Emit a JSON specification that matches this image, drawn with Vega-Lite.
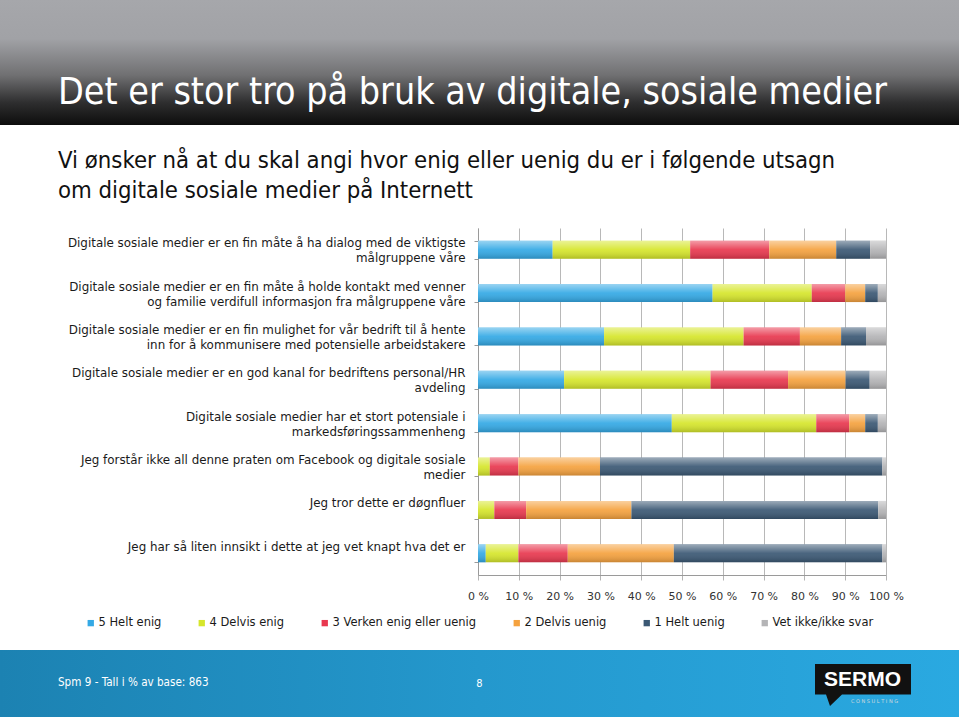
{
  "$schema": "https://vega.github.io/schema/vega-lite/v6.json",
  "padding": 0,
  "background": "#ffffff",
  "spacing": 0,
  "bounds": "flush",
  "config": {"view": {"stroke": null}},
  "vconcat": [
    {
      "width": 959,
      "height": 228,
      "data": {"values": [{"k": 0}]},
      "mark": {
        "type": "rect",
        "color": {
          "gradient": "linear", "x1": 0, "y1": 0, "x2": 0, "y2": 1,
          "stops": [
            {"offset": 0, "color": "#a6a7ab"},
            {"offset": 0.17, "color": "#a1a2a6"},
            {"offset": 0.33, "color": "#707072"},
            {"offset": 0.45, "color": "#2e2e2f"},
            {"offset": 0.547, "color": "#0d0d0d"},
            {"offset": 0.5483, "color": "#ffffff"},
            {"offset": 1, "color": "#ffffff"}
          ]
        }
      },
      "encoding": {},
      "title": {
        "text": "Det er stor tro på bruk av digitale, sosiale medier",
        "subtitle": ["Vi ønsker nå at du skal angi hvor enig eller uenig du er i følgende utsagn", "om digitale sosiale medier på Internett"],
        "orient": "top",
        "anchor": "start",
        "frame": "group",
        "dx": 58,
        "offset": -233,
        "baseline": "alphabetic",
        "font": "DejaVu Sans Condensed",
        "fontSize": 37.3,
        "fontWeight": "normal",
        "color": "#ffffff",
        "subtitleFont": "DejaVu Sans Condensed",
        "subtitleFontSize": 23.7,
        "subtitleColor": "#111111",
        "subtitleLineHeight": 30,
        "subtitlePadding": 27
      }
    },
    {
      "width": 959,
      "height": 347,
      "data": {
        "values": [
          {"statement": "Digitale sosiale medier er en fin måte å ha dialog med de viktigste|målgruppene våre", "response": "5 Helt enig", "rank": 1, "value": 18.3},
          {"statement": "Digitale sosiale medier er en fin måte å ha dialog med de viktigste|målgruppene våre", "response": "4 Delvis enig", "rank": 2, "value": 33.7},
          {"statement": "Digitale sosiale medier er en fin måte å ha dialog med de viktigste|målgruppene våre", "response": "3 Verken enig eller uenig", "rank": 3, "value": 19.4},
          {"statement": "Digitale sosiale medier er en fin måte å ha dialog med de viktigste|målgruppene våre", "response": "2 Delvis uenig", "rank": 4, "value": 16.4},
          {"statement": "Digitale sosiale medier er en fin måte å ha dialog med de viktigste|målgruppene våre", "response": "1 Helt uenig", "rank": 5, "value": 8.3},
          {"statement": "Digitale sosiale medier er en fin måte å ha dialog med de viktigste|målgruppene våre", "response": "Vet ikke/ikke svar", "rank": 6, "value": 3.9},
          {"statement": "Digitale sosiale medier er en fin måte å holde kontakt med venner|og familie verdifull informasjon fra målgruppene våre", "response": "5 Helt enig", "rank": 1, "value": 57.5},
          {"statement": "Digitale sosiale medier er en fin måte å holde kontakt med venner|og familie verdifull informasjon fra målgruppene våre", "response": "4 Delvis enig", "rank": 2, "value": 24.3},
          {"statement": "Digitale sosiale medier er en fin måte å holde kontakt med venner|og familie verdifull informasjon fra målgruppene våre", "response": "3 Verken enig eller uenig", "rank": 3, "value": 8.2},
          {"statement": "Digitale sosiale medier er en fin måte å holde kontakt med venner|og familie verdifull informasjon fra målgruppene våre", "response": "2 Delvis uenig", "rank": 4, "value": 4.9},
          {"statement": "Digitale sosiale medier er en fin måte å holde kontakt med venner|og familie verdifull informasjon fra målgruppene våre", "response": "1 Helt uenig", "rank": 5, "value": 3.1},
          {"statement": "Digitale sosiale medier er en fin måte å holde kontakt med venner|og familie verdifull informasjon fra målgruppene våre", "response": "Vet ikke/ikke svar", "rank": 6, "value": 2.0},
          {"statement": "Digitale sosiale medier er en fin mulighet for vår bedrift til  å hente|inn for å kommunisere med potensielle arbeidstakere", "response": "5 Helt enig", "rank": 1, "value": 30.9},
          {"statement": "Digitale sosiale medier er en fin mulighet for vår bedrift til  å hente|inn for å kommunisere med potensielle arbeidstakere", "response": "4 Delvis enig", "rank": 2, "value": 34.2},
          {"statement": "Digitale sosiale medier er en fin mulighet for vår bedrift til  å hente|inn for å kommunisere med potensielle arbeidstakere", "response": "3 Verken enig eller uenig", "rank": 3, "value": 13.8},
          {"statement": "Digitale sosiale medier er en fin mulighet for vår bedrift til  å hente|inn for å kommunisere med potensielle arbeidstakere", "response": "2 Delvis uenig", "rank": 4, "value": 10.1},
          {"statement": "Digitale sosiale medier er en fin mulighet for vår bedrift til  å hente|inn for å kommunisere med potensielle arbeidstakere", "response": "1 Helt uenig", "rank": 5, "value": 6.1},
          {"statement": "Digitale sosiale medier er en fin mulighet for vår bedrift til  å hente|inn for å kommunisere med potensielle arbeidstakere", "response": "Vet ikke/ikke svar", "rank": 6, "value": 4.9},
          {"statement": "Digitale sosiale medier er en god kanal for bedriftens personal/HR|avdeling", "response": "5 Helt enig", "rank": 1, "value": 21.1},
          {"statement": "Digitale sosiale medier er en god kanal for bedriftens personal/HR|avdeling", "response": "4 Delvis enig", "rank": 2, "value": 35.9},
          {"statement": "Digitale sosiale medier er en god kanal for bedriftens personal/HR|avdeling", "response": "3 Verken enig eller uenig", "rank": 3, "value": 19.0},
          {"statement": "Digitale sosiale medier er en god kanal for bedriftens personal/HR|avdeling", "response": "2 Delvis uenig", "rank": 4, "value": 14.1},
          {"statement": "Digitale sosiale medier er en god kanal for bedriftens personal/HR|avdeling", "response": "1 Helt uenig", "rank": 5, "value": 5.9},
          {"statement": "Digitale sosiale medier er en god kanal for bedriftens personal/HR|avdeling", "response": "Vet ikke/ikke svar", "rank": 6, "value": 4.0},
          {"statement": "Digitale sosiale medier har et stort potensiale i|markedsføringssammenheng", "response": "5 Helt enig", "rank": 1, "value": 47.5},
          {"statement": "Digitale sosiale medier har et stort potensiale i|markedsføringssammenheng", "response": "4 Delvis enig", "rank": 2, "value": 35.4},
          {"statement": "Digitale sosiale medier har et stort potensiale i|markedsføringssammenheng", "response": "3 Verken enig eller uenig", "rank": 3, "value": 8.1},
          {"statement": "Digitale sosiale medier har et stort potensiale i|markedsføringssammenheng", "response": "2 Delvis uenig", "rank": 4, "value": 3.9},
          {"statement": "Digitale sosiale medier har et stort potensiale i|markedsføringssammenheng", "response": "1 Helt uenig", "rank": 5, "value": 3.1},
          {"statement": "Digitale sosiale medier har et stort potensiale i|markedsføringssammenheng", "response": "Vet ikke/ikke svar", "rank": 6, "value": 2.0},
          {"statement": "Jeg forstår ikke all denne praten om Facebook og digitale sosiale|medier", "response": "5 Helt enig", "rank": 1, "value": 0},
          {"statement": "Jeg forstår ikke all denne praten om Facebook og digitale sosiale|medier", "response": "4 Delvis enig", "rank": 2, "value": 2.9},
          {"statement": "Jeg forstår ikke all denne praten om Facebook og digitale sosiale|medier", "response": "3 Verken enig eller uenig", "rank": 3, "value": 7.0},
          {"statement": "Jeg forstår ikke all denne praten om Facebook og digitale sosiale|medier", "response": "2 Delvis uenig", "rank": 4, "value": 20.0},
          {"statement": "Jeg forstår ikke all denne praten om Facebook og digitale sosiale|medier", "response": "1 Helt uenig", "rank": 5, "value": 69.2},
          {"statement": "Jeg forstår ikke all denne praten om Facebook og digitale sosiale|medier", "response": "Vet ikke/ikke svar", "rank": 6, "value": 0.9},
          {"statement": "Jeg tror dette er døgnfluer", "response": "5 Helt enig", "rank": 1, "value": 0},
          {"statement": "Jeg tror dette er døgnfluer", "response": "4 Delvis enig", "rank": 2, "value": 4.0},
          {"statement": "Jeg tror dette er døgnfluer", "response": "3 Verken enig eller uenig", "rank": 3, "value": 7.8},
          {"statement": "Jeg tror dette er døgnfluer", "response": "2 Delvis uenig", "rank": 4, "value": 25.8},
          {"statement": "Jeg tror dette er døgnfluer", "response": "1 Helt uenig", "rank": 5, "value": 60.5},
          {"statement": "Jeg tror dette er døgnfluer", "response": "Vet ikke/ikke svar", "rank": 6, "value": 1.9},
          {"statement": "Jeg har så liten innsikt i dette at jeg vet knapt hva det er", "response": "5 Helt enig", "rank": 1, "value": 1.9},
          {"statement": "Jeg har så liten innsikt i dette at jeg vet knapt hva det er", "response": "4 Delvis enig", "rank": 2, "value": 8.0},
          {"statement": "Jeg har så liten innsikt i dette at jeg vet knapt hva det er", "response": "3 Verken enig eller uenig", "rank": 3, "value": 12.1},
          {"statement": "Jeg har så liten innsikt i dette at jeg vet knapt hva det er", "response": "2 Delvis uenig", "rank": 4, "value": 26.0},
          {"statement": "Jeg har så liten innsikt i dette at jeg vet knapt hva det er", "response": "1 Helt uenig", "rank": 5, "value": 51.1},
          {"statement": "Jeg har så liten innsikt i dette at jeg vet knapt hva det er", "response": "Vet ikke/ikke svar", "rank": 6, "value": 0.9}
        ]
      },
      "encoding": {
        "y": {
          "field": "statement", "type": "nominal", "sort": null,
          "scale": {"paddingInner": 0.585, "paddingOuter": 0.2925},
          "axis": {
            "title": null,
            "offset": -478,
            "labelExpr": "split(datum.label, '|')",
            "labelFont": "DejaVu Sans",
            "labelFontSize": 11.9,
            "labelColor": "#1a1a1a",
            "labelLineHeight": 15,
            "labelLimit": 460,
            "labelPadding": 9,
            "labelOffset": -7,
            "tickBand": "extent",
            "tickSize": 4,
            "tickColor": "#9a9a9a",
            "domainColor": "#9a9a9a",
            "grid": false
          }
        },
        "x": {
          "field": "value", "type": "quantitative", "stack": "zero",
          "scale": {"domain": [0, 100], "nice": false, "range": [478, 886]},
          "axis": {
            "title": null,
            "values": [0, 10, 20, 30, 40, 50, 60, 70, 80, 90, 100],
            "labelExpr": "datum.value + ' %'",
            "labelOverlap": false,
            "labelFlush": false,
            "labelFont": "DejaVu Sans",
            "labelFontSize": 11,
            "labelColor": "#333333",
            "labelPadding": 10,
            "tickSize": 5,
            "tickColor": "#b5b5b5",
            "domainColor": "#9a9a9a",
            "grid": true,
            "gridColor": "#b8b8b8",
            "gridWidth": 1
          }
        },
        "order": {"field": "rank", "type": "quantitative"}
      },
      "layer": [
        {
          "mark": {"type": "bar"},
          "encoding": {
            "color": {
              "field": "response", "type": "nominal",
              "scale": {
                "domain": ["5 Helt enig", "4 Delvis enig", "3 Verken enig eller uenig", "2 Delvis uenig", "1 Helt uenig", "Vet ikke/ikke svar"],
                "range": ["#34a9e5", "#d6e62c", "#e8384f", "#f5a23f", "#3b5874", "#b4b4b6"]
              },
              "legend": {
                "title": null,
                "orient": "none",
                "legendX": 85,
                "legendY": 617,
                "direction": "horizontal",
                "columns": 6,
                "columnPadding": 34,
                "symbolType": "square",
                "symbolSize": 40,
                "symbolStrokeWidth": 0,
                "labelFont": "DejaVu Sans",
                "labelFontSize": 11.5,
                "labelColor": "#1a1a1a",
                "labelOffset": 2
              }
            }
          }
        },
        {
          "mark": {
            "type": "bar",
            "color": {
              "gradient": "linear", "x1": 0, "y1": 0, "x2": 0, "y2": 1,
              "stops": [
                {"offset": 0, "color": "rgba(255,255,255,0.5)"},
                {"offset": 0.5, "color": "rgba(255,255,255,0.08)"},
                {"offset": 1, "color": "rgba(0,0,0,0.18)"}
              ]
            }
          },
          "encoding": {"detail": {"field": "response", "type": "nominal"}}
        }
      ]
    },
    {
      "width": 959,
      "height": 75,
      "data": {"values": [{"k": 0}]},
      "mark": {"type": "rect", "opacity": 0},
      "encoding": {}
    },
    {
      "width": 959,
      "height": 67,
      "data": {"values": [{"k": 0, "page": "8", "logo": "SERMO", "sub": "C O N S U L T I N G"}]},
      "title": {
        "text": "Spm 9 - Tall i % av base: 863",
        "orient": "top",
        "anchor": "start",
        "frame": "group",
        "dx": 58,
        "offset": -48,
        "baseline": "alphabetic",
        "font": "DejaVu Sans Condensed",
        "fontSize": 11.6,
        "fontWeight": "normal",
        "color": "#ffffff"
      },
      "layer": [
        {
          "mark": {
            "type": "rect",
            "color": {
              "gradient": "linear", "x1": 0, "y1": 0, "x2": 1, "y2": 0,
              "stops": [
                {"offset": 0, "color": "#1c82b2"},
                {"offset": 0.5, "color": "#2498cd"},
                {"offset": 1, "color": "#2aa9e1"}
              ]
            }
          },
          "encoding": {}
        },
        {
          "mark": {"type": "text", "color": "#ffffff", "font": "DejaVu Sans Condensed", "fontSize": 11, "baseline": "middle", "align": "center"},
          "encoding": {"text": {"field": "page"}}
        },
        {
          "mark": {
            "type": "point", "filled": true, "color": "#111111", "opacity": 1, "size": 4, "strokeWidth": 0,
            "shape": "M335.5,-19.5L431.5,-19.5L431.5,11L362.5,11L350.5,22.5L346.5,11L335.5,11Z"
          },
          "encoding": {}
        },
        {
          "mark": {"type": "text", "color": "#ffffff", "font": "Liberation Sans", "fontWeight": "bold", "fontSize": 21, "baseline": "middle", "align": "center", "dx": 383, "dy": -4},
          "encoding": {"text": {"field": "logo"}}
        },
        {
          "mark": {"type": "text", "color": "#cfd8dc", "font": "DejaVu Sans", "fontSize": 5, "baseline": "middle", "align": "center", "dx": 395, "dy": 17},
          "encoding": {"text": {"field": "sub"}}
        }
      ]
    }
  ]
}
